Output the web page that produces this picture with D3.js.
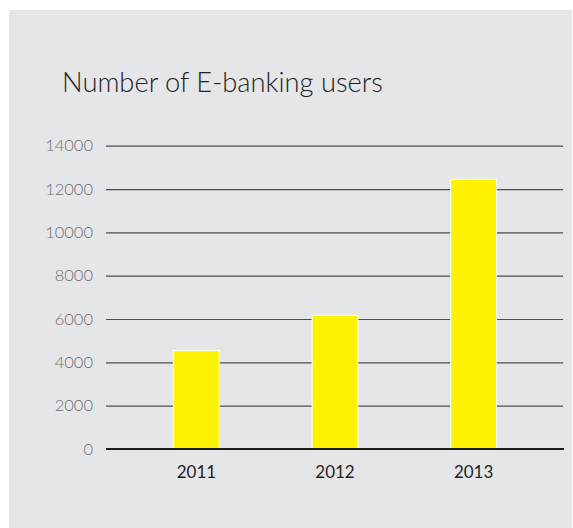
<!DOCTYPE html>
<html>
<head>
<meta charset="utf-8">
<script src="https://cdn.jsdelivr.net/npm/d3@7"></script>
<style>
  html, body { margin: 0; padding: 0; background: #ffffff; }
  svg { display: block; }
</style>
</head>
<body>
<svg id="chart" width="573" height="528"></svg>
<script>
// Yearly count of e-banking users
const years = ["2011", "2012", "2013"];
const users = [4540, 6170, 12450];
const yTicks = [0, 2000, 4000, 6000, 8000, 10000, 12000, 14000];
const titleText = "Number of E-banking users";

const svg = d3.select("#chart");
const font = "Lato, 'Open Sans', sans-serif";

// panel background
svg.append("rect")
  .attr("x", 9).attr("y", 10)
  .attr("width", 563).attr("height", 518)
  .attr("fill", "#e5e6e8");

// title, fitted to its measured width
const title = svg.append("text")
  .attr("x", 62).attr("y", 92)
  .attr("font-family", font)
  .attr("font-size", 29)
  .attr("font-weight", 300)
  .attr("fill", "#231f20")
  .text(titleText);
const tw = title.node().getComputedTextLength();
if (tw > 0) title.attr("font-size", 29 * 321 / tw);

const plot = { left: 106, right: 564, top: 145.7, bottom: 449 };

const y = d3.scaleLinear()
  .domain([0, 14000])
  .range([plot.bottom, plot.top]);

const x = d3.scaleBand()
  .domain(years)
  .range([plot.left, plot.right])
  .paddingInner(0.67)
  .paddingOuter(0.487);

// gridlines and labels from a left axis
const yAxis = svg.append("g")
  .attr("transform", `translate(${plot.left},0)`)
  .call(d3.axisLeft(y).tickValues(yTicks).tickSize(0).tickPadding(13).tickFormat(d3.format("d")));
yAxis.select(".domain").remove();
yAxis.selectAll("text")
  .attr("font-family", font)
  .attr("font-size", 16.5)
  .attr("font-weight", 300)
  .attr("fill", "#6d6e70");
yAxis.selectAll(".tick").filter(d => d !== 0)
  .append("line")
  .attr("x1", 0).attr("x2", plot.right - 1 - plot.left)
  .attr("stroke", "#4d4d4f")
  .attr("stroke-width", 1.2);

// bars
svg.append("g")
  .selectAll("rect")
  .data(years.map((yr, i) => ({ yr, v: users[i] })))
  .join("rect")
  .attr("x", d => x(d.yr))
  .attr("y", d => y(d.v))
  .attr("width", x.bandwidth())
  .attr("height", d => y(0) - y(d.v))
  .attr("fill", "#fff200")
  .attr("stroke", "#ffffff")
  .attr("stroke-width", 1);

// baseline
svg.append("line")
  .attr("x1", plot.left).attr("x2", plot.right)
  .attr("y1", y(0)).attr("y2", y(0))
  .attr("stroke", "#1c1c1c")
  .attr("stroke-width", 2);

// category labels
const xAxis = svg.append("g")
  .attr("transform", `translate(0,${plot.bottom})`)
  .call(d3.axisBottom(x).tickSize(0).tickPadding(17));
xAxis.select(".domain").remove();
xAxis.selectAll("text")
  .attr("font-family", font)
  .attr("font-size", 17)
  .attr("font-weight", 400)
  .attr("fill", "#231f20");
</script>
</body>
</html>
